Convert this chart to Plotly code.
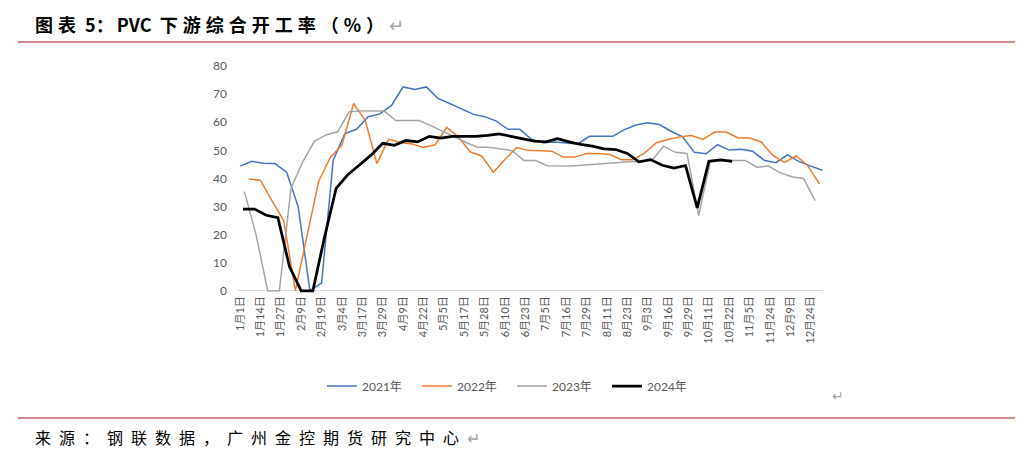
import plotly.graph_objects as go

# ---------------- data ----------------
tick_labels = ["1月1日", "1月14日", "1月27日", "2月9日", "2月19日", "3月4日", "3月17日",
               "3月29日", "4月9日", "4月22日", "5月5日", "5月17日", "5月28日", "6月10日",
               "6月23日", "7月5日", "7月16日", "7月29日", "8月11日", "8月23日", "9月3日",
               "9月16日", "9月29日", "10月11日", "10月22日", "11月5日", "11月24日",
               "12月9日", "12月24日"]

v2021 = [44.4, 46.1, 45.4, 45.3, 42.2, 29.8, 0, 2.7, 46.5, 56, 57.5, 62, 63, 66, 72.6,
         71.7, 72.6, 68.5, 66.7, 64.9, 62.9, 62, 60.4, 57.5, 57.5, 54, 52.7, 53, 52.7,
         52.3, 55, 55, 55, 57.4, 59, 59.8, 59.2, 56.8, 54.8, 49.3, 48.8, 52, 50.1, 50.4,
         49.7, 46.5, 45.6, 48.4, 46, 44.4, 42.9]
v2022 = [39.8, 39.3, 32, 25, 0, 20, 39, 47.5, 51.9, 66.7, 60.7, 45.3, 54, 52.8, 52.3,
         51, 52, 58.2, 54.8, 49.5, 48, 42.2, 46.8, 51, 50, 49.9, 49.7, 47.6, 47.6, 48.9,
         48.9, 48.5, 46.7, 46.7, 49.1, 52.7, 53.9, 54.8, 55.3, 53.9, 56.5, 56.5, 54.4,
         54.4, 53, 48.2, 45.7, 48, 44.5, 38]
v2023 = [35.3, 20, 0, 0, 36.5, 45.8, 53.2, 55.5, 56.6, 63.8, 64, 64, 64, 60.6, 60.6,
         60.6, 58.8, 56.8, 55, 52.9, 51.1, 51.1, 50.5, 49.9, 46.4, 46.4, 44.5, 44.4, 44.4,
         44.7, 45, 45.5, 45.8, 45.9, 46, 46.5, 51.5, 49.3, 48.9, 26.8, 46.1, 46.4, 46.4,
         46.4, 44, 44.4, 42, 40.6, 40, 32.1]
v2024 = [29.1, 29.1, 26.9, 26, 8.5, 0, 0, 19, 36.5, 41.3, 44.8, 48.3, 52.5, 51.8, 53.5,
         53, 55, 54.4, 55, 55, 55, 55.3, 55.9, 55, 54.2, 53.3, 53, 54.2, 53, 52.1, 51.5,
         50.5, 50.3, 48.9, 45.9, 46.7, 44.7, 43.7, 44.6, 29.5, 46.1, 46.6, 46.1]

series_names = ["2021年", "2022年", "2023年", "2024年"]
# the shared date axis interleaves the report dates of all years:
# about 4 date slots per week, a label on every 7th slot
start_slot = [0, 3, 1.5, 1]
SLOTS_PER_WEEK = 4
LABEL_EVERY = 7

# ---------------- style ----------------
colors = ["#4472C4", "#ED7D31", "#A5A5A5", "#000000"]
widths = [1.5, 1.5, 1.5, 2.75]

W, H = 1027, 460
L, R, T, B = 238, 823, 65, 293


def px_x(p):
    return (p - L) / (R - L)


def px_y(p):
    return (B - p) / (B - T)


fig = go.Figure()
for name, vals, s0, c, w in zip(series_names, [v2021, v2022, v2023, v2024],
                                start_slot, colors, widths):
    xs = [s0 + SLOTS_PER_WEEK * k for k in range(len(vals))]
    fig.add_trace(go.Scatter(x=xs, y=vals, name=name, mode="lines",
                             line=dict(color=c, width=w)))

tickvals = [LABEL_EVERY * j for j in range(len(tick_labels))]

cjk = "Lato, 'Noto Sans CJK SC', sans-serif"
fig.update_layout(
    width=W, height=H,
    margin=dict(l=L, r=W - R, t=T, b=H - B, pad=0),
    paper_bgcolor="white", plot_bgcolor="white",
    font=dict(family=cjk, color="#595959", size=12),
    xaxis=dict(type="linear", range=[-0.7, 200.2], tickvals=tickvals,
               ticktext=tick_labels, tickangle=-90, showgrid=False,
               zeroline=False, showline=False, ticks="",
               tickfont=dict(size=11, color="#595959", family=cjk)),
    yaxis=dict(range=[-0.8, 80.4], dtick=10, tick0=0, showgrid=False,
               zeroline=True, zerolinecolor="#D9D9D9", zerolinewidth=1,
               showline=False, ticks="", ticklabelstandoff=10,
               tickfont=dict(size=12, color="#595959", family=cjk)),
    legend=dict(orientation="h", x=px_x(322), xanchor="left",
                y=px_y(386), yanchor="middle",
                entrywidth=50, entrywidthmode="pixels",
                font=dict(size=12, color="#595959", family=cjk),
                bgcolor="rgba(0,0,0,0)"),
    showlegend=True,
)

# title, rules and source text
NB = "\u00a0"
fig.add_annotation(
    xref="paper", yref="paper", x=px_x(33), y=px_y(24), xanchor="left", yanchor="middle",
    text="<b><span style='letter-spacing:5px'>图表</span>" + NB + "5"
         "<span style='letter-spacing:3px'>：</span>PVC" + NB + NB +
         "<span style='letter-spacing:5px'>下游综合开工率（%）</span></b>"
         "<span style='color:#A6A6A6'>↵</span>",
    showarrow=False, font=dict(size=18, color="#000000", family="'Noto Sans CJK SC'"))
fig.add_annotation(
    xref="paper", yref="paper", x=px_x(33), y=px_y(437), xanchor="left", yanchor="middle",
    text="<span style='letter-spacing:8px'>来源：钢联数据，广州金控期货研究中心</span>"
         "<span style='color:#A6A6A6'>↵</span>",
    showarrow=False, font=dict(size=16, color="#000000", family="'Noto Sans CJK SC'"))
fig.add_annotation(
    xref="paper", yref="paper", x=px_x(838), y=px_y(396), xanchor="center", yanchor="middle",
    text="↵", showarrow=False, font=dict(size=14, color="#A6A6A6", family="DejaVu Sans"))

for yl in (42, 418):
    fig.add_shape(type="line", xref="paper", yref="paper",
                  x0=px_x(18), x1=px_x(1015), y0=px_y(yl), y1=px_y(yl),
                  line=dict(color="#9B1C1C", width=1.2))

fig.write_html("out.html", config={"displayModeBar": False},
               post_script="document.body.style.margin='0';")
